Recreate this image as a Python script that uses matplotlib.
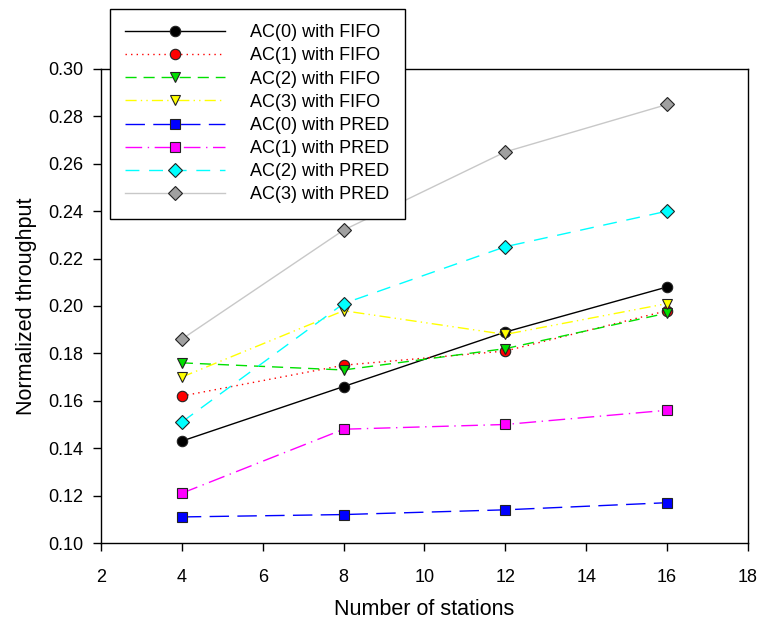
import matplotlib
matplotlib.use('Agg')
import matplotlib.pyplot as plt

plt.rcParams['font.family'] = ['Liberation Sans', 'DejaVu Sans']

stations = [4, 8, 12, 16]
ac0_fifo = [0.143, 0.166, 0.189, 0.208]
ac1_fifo = [0.162, 0.175, 0.181, 0.198]
ac2_fifo = [0.176, 0.173, 0.182, 0.197]
ac3_fifo = [0.170, 0.198, 0.188, 0.201]
ac0_pred = [0.111, 0.112, 0.114, 0.117]
ac1_pred = [0.121, 0.148, 0.150, 0.156]
ac2_pred = [0.151, 0.201, 0.225, 0.240]
ac3_pred = [0.186, 0.232, 0.265, 0.285]

labels = ['AC(0) with FIFO', 'AC(1) with FIFO', 'AC(2) with FIFO', 'AC(3) with FIFO',
          'AC(0) with PRED', 'AC(1) with PRED', 'AC(2) with PRED', 'AC(3) with PRED']

series = [ac0_fifo, ac1_fifo, ac2_fifo, ac3_fifo, ac0_pred, ac1_pred, ac2_pred, ac3_pred]
# (line colour, dash pattern, marker, marker fill)
styles = [
    ('black', '-', 'o', 'black'),
    ('red', (0, (1, 3)), 'o', 'red'),
    ('#00e000', (0, (8, 5)), 'v', '#00e000'),
    ('yellow', (0, (8, 3, 1, 3, 1, 3)), 'v', 'yellow'),
    ('blue', (0, (14, 6)), 's', 'blue'),
    ('magenta', (0, (12, 4, 1, 4)), 's', 'magenta'),
    ('cyan', (0, (10, 7)), 'D', 'cyan'),
    ('#c8c8c8', '-', 'D', '#a0a0a0'),
]

fig = plt.figure(figsize=(7.62, 6.21), dpi=100)
ax = fig.add_axes([0.1325, 0.1256, 0.849, 0.7634])

for ys, lab, (lc, ls, mk, mf) in zip(series, labels, styles):
    ax.plot(stations, ys, color=lc, linestyle=ls, linewidth=1, marker=mk,
            markersize=7.5, markerfacecolor=mf, markeredgecolor='#222222',
            markeredgewidth=0.8, label=lab)

ax.set_xlim(2, 18)
ax.set_ylim(0.10, 0.30)
ax.set_xticks(range(2, 19, 2))
ax.set_yticks([0.10, 0.12, 0.14, 0.16, 0.18, 0.20, 0.22, 0.24, 0.26, 0.28, 0.30])
ax.set_yticklabels(['%.2f' % v for v in ax.get_yticks()])
ax.tick_params(direction='out', length=6, width=1, labelsize=13)
ax.tick_params(axis='x', pad=13)
ax.tick_params(axis='y', pad=7)
for s in ax.spines.values():
    s.set_linewidth(1)

ax.set_xlabel('Number of stations', fontsize=15.5, labelpad=9)
ax.set_ylabel('Normalized throughput', fontsize=15.5, labelpad=8)

leg = ax.legend(loc='upper left', bbox_to_anchor=(110 / 762, 1 - 9 / 621),
                bbox_transform=fig.transFigure, numpoints=1, handlelength=5.5,
                handletextpad=1.4, fontsize=13, frameon=True, fancybox=False,
                edgecolor='black', framealpha=1, borderpad=0.85, labelspacing=0.34,
                borderaxespad=0)
leg.get_frame().set_linewidth(1)

fig.savefig('out.png', dpi=100)
